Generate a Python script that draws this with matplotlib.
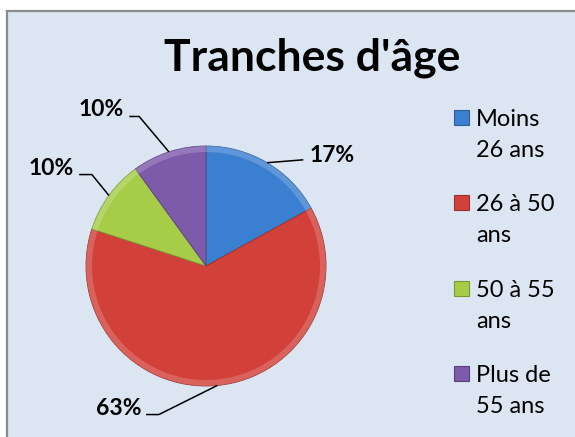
import matplotlib
matplotlib.use("Agg")
import matplotlib.pyplot as plt
from matplotlib.patches import Rectangle, Wedge
import numpy as np

# ---- data ----
categories = ["Moins\n26 ans", "26 à 50\nans", "50 à 55\nans", "Plus de\n55 ans"]
values = [17, 63, 10, 10]
pct_labels = ["17%", "63%", "10%", "10%"]
colors = ["#3B7FD0", "#D2403A", "#A6CC48", "#7E5BAA"]
edge_colors = ["#2E5F9C", "#9E2E2A", "#7A9A30", "#5A3F80"]
title = "Tranches d'âge"

FONT = "Lato"
W, H = 575, 437
fig = plt.figure(figsize=(W / 100, H / 100), dpi=100, facecolor="white")

# overlay axes in pixel coordinates
bg = fig.add_axes([0, 0, 1, 1])
bg.set_xlim(0, W)
bg.set_ylim(H, 0)
bg.axis("off")
bg.add_patch(Rectangle((7, 10.5), W + 10, H + 10, facecolor="#DCE6F2",
                       edgecolor="#8C8C8C", lw=1.6))

bg.text(312, 71, title, ha="center", va="baseline", fontsize=32,
        fontweight="bold", family=FONT, color="black")

# legend (manual, pixel coords)
leg_baselines = [126, 211.3, 296.6, 382]
for lab, col, ec, yb in zip(categories, colors, edge_colors, leg_baselines):
    bg.add_patch(Rectangle((454, yb - 16), 15, 15, facecolor=col,
                           edgecolor=ec, lw=0.8))
    lines = lab.split("\n")
    for k, ln in enumerate(lines):
        bg.text(476, yb + 31 * k, ln, ha="left", va="baseline",
                fontsize=17, family=FONT, color="black")

# pie axes: center (206,266) px, radius 122 px
cx, cy, R, half = 206, 266, 122, 150
ax = fig.add_axes([(cx - half) / W, (H - cy - half) / H, 2 * half / W, 2 * half / H])
lim = half / R
ax.set_xlim(-lim, lim)
ax.set_ylim(-lim, lim)
ax.axis("off")
wedges, _ = ax.pie(values, colors=colors, startangle=90, counterclock=False,
                   radius=1, wedgeprops=dict(edgecolor="#3A3A3A", linewidth=0.6))
for w, ec in zip(wedges, edge_colors):
    w.set_edgecolor(ec)

# subtle bevel highlight on the rim
for w in wedges:
    rim = Wedge((0, 0), 1.0, w.theta1, w.theta2, width=0.05,
                facecolor="white", alpha=0.18, edgecolor="none")
    ax.add_patch(rim)

# leader lines & labels (layout offsets in axis units)
layout = [
    dict(elbow=(0.811, 0.885), end=(0.811, 0.885), txt=(0.861, 0.869), ha="left"),
    dict(elbow=(-0.393, -1.238), end=(-0.50, -1.238), txt=(-0.541, -1.238), ha="right"),
    dict(elbow=(-0.951, 0.762), end=(-1.057, 0.762), txt=(-1.098, 0.762), ha="right"),
    dict(elbow=(-0.557, 1.246), end=(-0.639, 1.246), txt=(-0.689, 1.246), ha="right"),
]
for w, lab, lo in zip(wedges, pct_labels, layout):
    mid = np.deg2rad((w.theta1 + w.theta2) / 2)
    ex, ey = np.cos(mid), np.sin(mid)
    ax.plot([ex, lo["elbow"][0], lo["end"][0]], [ey, lo["elbow"][1], lo["end"][1]],
            color="black", lw=1.1, clip_on=False, solid_capstyle="butt")
    ax.text(lo["txt"][0], lo["txt"][1], lab, ha=lo["ha"], va="baseline",
            fontsize=16.5, fontweight="bold", family=FONT, clip_on=False)

fig.savefig("out.png", dpi=100, facecolor="white")
